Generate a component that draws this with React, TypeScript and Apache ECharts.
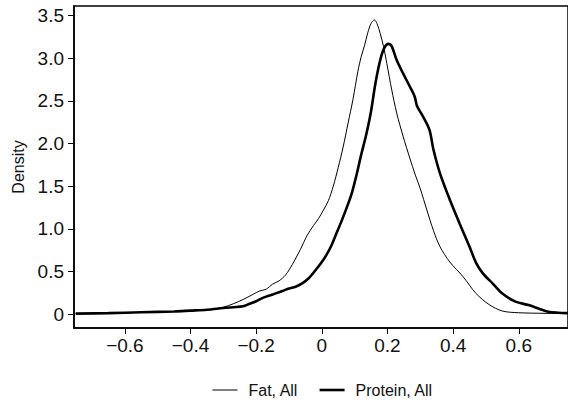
import React, { useEffect, useRef } from "react";
import * as echarts from "echarts";

const fatX = [-0.75, -0.65, -0.55, -0.45, -0.4, -0.35, -0.3, -0.27, -0.24, -0.21, -0.19, -0.17, -0.15, -0.13, -0.11, -0.09, -0.065, -0.045, -0.025, -0.01, 0.005, 0.02, 0.035, 0.05, 0.065, 0.08, 0.095, 0.11, 0.12, 0.13, 0.14, 0.15, 0.16, 0.168, 0.178, 0.188, 0.198, 0.213, 0.228, 0.248, 0.268, 0.285, 0.3, 0.32, 0.34, 0.36, 0.39, 0.43, 0.47, 0.51, 0.55, 0.6, 0.68, 0.75];
const fatY = [0.005, 0.01, 0.02, 0.03, 0.04, 0.05, 0.08, 0.12, 0.17, 0.23, 0.27, 0.29, 0.35, 0.39, 0.46, 0.58, 0.76, 0.92, 1.04, 1.12, 1.22, 1.33, 1.5, 1.72, 1.96, 2.24, 2.52, 2.85, 3.02, 3.15, 3.3, 3.41, 3.45, 3.41, 3.29, 3.14, 2.94, 2.63, 2.36, 2.08, 1.83, 1.63, 1.47, 1.22, 0.98, 0.79, 0.61, 0.44, 0.24, 0.11, 0.035, 0.015, 0.008, 0.005];

const proteinX = [-0.75, -0.65, -0.55, -0.45, -0.4, -0.35, -0.3, -0.27, -0.24, -0.22, -0.2, -0.18, -0.15, -0.12, -0.1, -0.08, -0.06, -0.04, -0.02, 0.0, 0.015, 0.03, 0.045, 0.06, 0.075, 0.09, 0.105, 0.12, 0.135, 0.15, 0.163, 0.178, 0.19, 0.203, 0.213, 0.228, 0.248, 0.268, 0.283, 0.29, 0.308, 0.328, 0.34, 0.36, 0.39, 0.42, 0.45, 0.47, 0.49, 0.52, 0.55, 0.59, 0.63, 0.66, 0.69, 0.72, 0.75];
const proteinY = [0.005, 0.01, 0.02, 0.03, 0.04, 0.05, 0.07, 0.08, 0.09, 0.12, 0.15, 0.19, 0.23, 0.27, 0.3, 0.32, 0.36, 0.42, 0.51, 0.61, 0.7, 0.81, 0.95, 1.09, 1.24, 1.4, 1.62, 1.87, 2.1, 2.38, 2.7, 2.98, 3.12, 3.17, 3.14, 2.98, 2.82, 2.67, 2.55, 2.44, 2.32, 2.16, 1.93, 1.65, 1.34, 1.06, 0.79, 0.6, 0.48, 0.36, 0.24, 0.145, 0.105, 0.065, 0.027, 0.015, 0.01];

const xTicks = [-0.6, -0.4, -0.2, 0, 0.2, 0.4, 0.6];
const yTicks = [0, 0.5, 1.0, 1.5, 2.0, 2.5, 3.0, 3.5];
const seriesNames = ["Fat, All", "Protein, All"];

const FONT = "'Liberation Sans', Arial, sans-serif";

function fmtX(v: number): string {
  if (Math.abs(v) < 1e-9) return "0";
  const s = Math.abs(v).toFixed(1);
  return v < 0 ? "\u2212" + s : s;
}
function fmtY(v: number): string {
  if (Math.abs(v) < 1e-9) return "0";
  return v.toFixed(1);
}

export default function App() {
  const ref = useRef<HTMLDivElement>(null);
  useEffect(() => {
    if (!ref.current) return;
    const chart = echarts.init(ref.current, undefined, { renderer: "svg" });
    const fatData = fatX.map((x, i) => [x, fatY[i]]);
    const proteinData = proteinX.map((x, i) => [x, proteinY[i]]);
    chart.setOption({
      animation: false,
      backgroundColor: "#fff",
      textStyle: { fontFamily: FONT },
      grid: {
        left: 74,
        top: 6,
        right: -5,
        bottom: 74,
        show: true,
        borderColor: "#000",
        borderWidth: 1.5,
        containLabel: false,
      },
      legend: {
        data: [
          { name: seriesNames[0], lineStyle: { width: 1, color: "#000" } },
          { name: seriesNames[1], lineStyle: { width: 2.6, color: "#000" } },
        ],
        left: 207,
        top: 377,
        itemWidth: 25,
        itemHeight: 18,
        itemGap: 20,
        itemStyle: { opacity: 0 },
        textStyle: { fontSize: 16, color: "#111", fontFamily: FONT, padding: [0, 0, 0, 6] },
      },
      xAxis: {
        type: "value",
        min: -0.755,
        max: 0.75,
        axisLine: { show: true, onZero: false, lineStyle: { color: "#000", width: 1.5 } },
        axisTick: { show: true, length: 6, lineStyle: { color: "#000", width: 1 }, customValues: xTicks },
        axisLabel: {
          fontSize: 19,
          color: "#111",
          fontFamily: FONT,
          margin: 8,
          customValues: xTicks,
          formatter: (v: number) => fmtX(v),
        },
        splitLine: { show: false },
      },
      yAxis: {
        type: "value",
        min: -0.164,
        max: 3.614,
        name: "Density",
        nameLocation: "middle",
        nameRotate: 90,
        nameGap: 48,
        nameTextStyle: { fontSize: 16, color: "#111", fontFamily: FONT },
        axisLine: { show: true, onZero: false, lineStyle: { color: "#000", width: 1.5 } },
        axisTick: { show: true, length: 6, lineStyle: { color: "#000", width: 1 }, customValues: yTicks },
        axisLabel: {
          fontSize: 19,
          color: "#111",
          fontFamily: FONT,
          margin: 10,
          customValues: yTicks,
          formatter: (v: number) => fmtY(v),
        },
        splitLine: { show: false },
      },
      series: [
        {
          name: seriesNames[0],
          type: "line",
          data: fatData,
          showSymbol: false,
          symbol: "none",
          smooth: 0.3,
          lineStyle: { color: "#000", width: 1 },
          itemStyle: { color: "#000" },
        },
        {
          name: seriesNames[1],
          type: "line",
          data: proteinData,
          showSymbol: false,
          symbol: "none",
          smooth: 0.3,
          lineStyle: { color: "#000", width: 2.6 },
          itemStyle: { color: "#000" },
        },
      ],
    });
    return () => chart.dispose();
  }, []);
  return (
    <div
      ref={ref}
      style={{ position: "fixed", left: 0, top: 0, width: 568, height: 402, background: "#fff" }}
    />
  );
}
